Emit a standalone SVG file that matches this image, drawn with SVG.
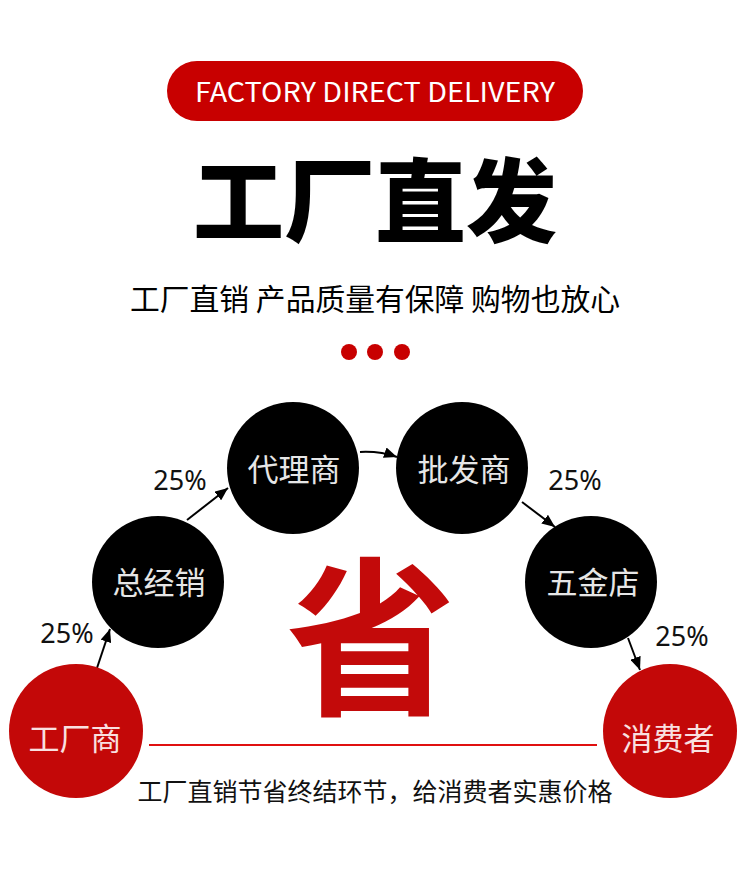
<svg xmlns="http://www.w3.org/2000/svg" width="750" height="886" viewBox="0 0 750 886">
<defs>
<style>
.cjk{font-family:"Noto Sans CJK SC","Noto Sans",sans-serif}
.node-black{fill:#000}
.node-red{fill:#c30808}
.lbl-b{fill:#e6e6e6;font-size:31px;text-anchor:middle}
.lbl-r{fill:#f9e0e0;font-size:31px;text-anchor:middle}
.pct{fill:#111;font-size:27px;text-anchor:middle;font-family:"Noto Sans","Noto Sans CJK SC",sans-serif}
.conn{stroke:#000;stroke-width:2;fill:none}
</style>
<marker id="arr" viewBox="0 0 13 11" refX="13" refY="5.5" markerWidth="13" markerHeight="11" markerUnits="userSpaceOnUse" orient="auto">
<path d="M0,0 L13,5.5 L0,11 Z" fill="#000"/>
</marker>
</defs>
<rect width="750" height="886" fill="#fff"/>

<g id="header">
<rect x="167" y="61" width="416" height="60" rx="30" fill="#c80000"/>
<text x="375" y="102" class="cjk" font-size="27" fill="#fff" text-anchor="middle" textLength="360" lengthAdjust="spacingAndGlyphs">FACTORY DIRECT DELIVERY</text>
<text x="375" y="235" class="cjk" font-size="91" font-weight="900" fill="#000" text-anchor="middle">工厂直发</text>
<text x="375" y="310" class="cjk" font-size="29.5" fill="#000" text-anchor="middle" textLength="490" lengthAdjust="spacingAndGlyphs">工厂直销 产品质量有保障 购物也放心</text>
<circle cx="349" cy="352" r="8" fill="#c80000"/>
<circle cx="375" cy="352" r="8" fill="#c80000"/>
<circle cx="402" cy="352" r="8" fill="#c80000"/>
</g>

<g id="sheng">
<text x="371" y="702" class="cjk" font-size="170" font-weight="700" fill="#c30a0a" text-anchor="middle">省</text>
</g>

<g id="connectors">
<line class="conn" x1="97" y1="668" x2="110" y2="629" marker-end="url(#arr)"/>
<line class="conn" x1="187" y1="520" x2="228" y2="488" marker-end="url(#arr)"/>
<path class="conn" d="M360,452 Q380,451 397,457" marker-end="url(#arr)"/>
<line class="conn" x1="522" y1="502" x2="555" y2="527" marker-end="url(#arr)"/>
<line class="conn" x1="628" y1="638" x2="640" y2="670" marker-end="url(#arr)"/>
<line x1="149" y1="745" x2="597" y2="745" stroke="#e01010" stroke-width="2"/>
</g>

<g id="labels">
<text x="67" y="643" class="pct">25%</text>
<text x="180" y="490" class="pct">25%</text>
<text x="575" y="490" class="pct">25%</text>
<text x="682" y="646" class="pct">25%</text>
</g>

<g id="node-gongchangshang">
<circle cx="76" cy="731" r="67" class="node-red"/>
<text x="75" y="750" class="cjk lbl-r">工厂商</text>
</g>
<g id="node-zongjingxiao">
<circle cx="158" cy="582" r="66" class="node-black"/>
<text x="159" y="594" class="cjk lbl-b">总经销</text>
</g>
<g id="node-dailishang">
<circle cx="293" cy="468" r="66" class="node-black"/>
<text x="294" y="481" class="cjk lbl-b">代理商</text>
</g>
<g id="node-pifashang">
<circle cx="462" cy="468" r="66" class="node-black"/>
<text x="464" y="481" class="cjk lbl-b">批发商</text>
</g>
<g id="node-wujindian">
<circle cx="591" cy="582" r="66" class="node-black"/>
<text x="593" y="594" class="cjk lbl-b">五金店</text>
</g>
<g id="node-xiaofeizhe">
<circle cx="670" cy="731" r="67" class="node-red"/>
<text x="668" y="750" class="cjk lbl-r">消费者</text>
</g>

<g id="footer">
<text x="375" y="801" class="cjk" font-size="25" fill="#111" text-anchor="middle">工厂直销节省终结环节，给消费者实惠价格</text>
</g>
</svg>
